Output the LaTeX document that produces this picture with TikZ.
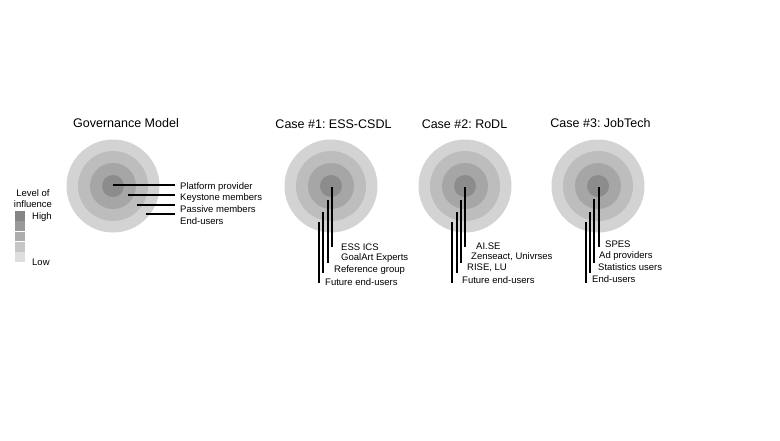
\documentclass[tikz,border=0pt]{standalone}
\usepackage{fontspec}
\setmainfont{Liberation Sans}
\usetikzlibrary{positioning}
\frenchspacing

\definecolor{lvla}{HTML}{8C8C8C}
\definecolor{lvlb}{HTML}{A6A6A6}
\definecolor{lvlc}{HTML}{BDBDBD}
\definecolor{lvld}{HTML}{D3D3D3}

\begin{document}
\begin{tikzpicture}[x=1pt,y=-1pt,
      every node/.style={inner sep=0pt,font=\fontsize{9.5}{11}\selectfont},
      title/.style={font=\fontsize{12.5}{14}\selectfont},
      lbl/.style={anchor=west},
      bar/.style={line width=1.5pt},
      sq/.style={minimum width=10pt,minimum height=9.8pt}]
    \useasboundingbox (0,0) rectangle (780,440);
    \coordinate (gm) at (113,186);
    \coordinate (c1) at (331,186);
    \coordinate (c2) at (465,186);
    \coordinate (c3) at (598,186);
    \foreach \c in {gm,c1,c2,c3} {
      \fill[lvld] (\c) circle (46.5pt);
      \fill[lvlc] (\c) circle (35pt);
      \fill[lvlb] (\c) circle (23pt);
      \fill[lvla] (\c) circle (11pt);
    }
    \node[title] (t0) at (126,123) {Governance Model};
    \node[title] (t1) at (333.5,124) {Case \#1: ESS-CSDL};
    \node[title] (t2) at (464.5,124) {Case \#2: RoDL};
    \node[title] (t3) at (600.5,123) {Case \#3: JobTech};
    % legend
    \node[align=center] (lev) at (33,198.5) {Level of\\influence};
    \node[sq,fill=black!48] (s1) at (20,216) {};
    \node[sq,fill=black!40,below=0pt of s1] (s2) {};
    \node[sq,fill=black!32,below=0pt of s2] (s3) {};
    \node[sq,fill=black!22,below=0pt of s3] (s4) {};
    \node[sq,fill=black!13,below=0pt of s4] (s5) {};
    \node[lbl] (hi) at (32,217) {High};
    \node[lbl] (lo) at (32,262) {Low};
    % governance model
    \coordinate (g1) at (113,185); \coordinate (g1e) at (175,185);
    \coordinate (g2) at (128,195); \coordinate (g2e) at (175,195);
    \coordinate (g3) at (137,205); \coordinate (g3e) at (175,205);
    \coordinate (g4) at (146,214); \coordinate (g4e) at (175,214);
    \draw[bar] (g1) -- (g1e);
    \draw[bar] (g2) -- (g2e);
    \draw[bar] (g3) -- (g3e);
    \draw[bar] (g4) -- (g4e);
    \node[lbl] (pp) at (180,187) {Platform provider};
    \node[lbl] (km) at (180,198) {Keystone members};
    \node[lbl] (pm) at (180,209) {Passive members};
    \node[lbl] (eu) at (180,221) {End-users};
    % case 1
    \coordinate (a1) at (332,187); \coordinate (a1e) at (332,247);
    \coordinate (a2) at (328,200); \coordinate (a2e) at (328,263);
    \coordinate (a3) at (323,212); \coordinate (a3e) at (323,273);
    \coordinate (a4) at (319,222); \coordinate (a4e) at (319,283);
    \draw[bar] (a1) -- (a1e);
    \draw[bar] (a2) -- (a2e);
    \draw[bar] (a3) -- (a3e);
    \draw[bar] (a4) -- (a4e);
    \node[lbl] (ess) at (341,247) {ESS ICS};
    \node[lbl] (goal) at (341,258) {GoalArt Experts};
    \node[lbl] (ref) at (334,270) {Reference group};
    \node[lbl] (fut1) at (325,282) {Future end-users};
    % case 2
    \coordinate (b1) at (465,187); \coordinate (b1e) at (465,247);
    \coordinate (b2) at (461,200); \coordinate (b2e) at (461,263);
    \coordinate (b3) at (457,212); \coordinate (b3e) at (457,273);
    \coordinate (b4) at (452,222); \coordinate (b4e) at (452,283);
    \draw[bar] (b1) -- (b1e);
    \draw[bar] (b2) -- (b2e);
    \draw[bar] (b3) -- (b3e);
    \draw[bar] (b4) -- (b4e);
    \node[lbl] (aise) at (476,246) {AI.SE};
    \node[lbl] (zen) at (471,257) {Zenseact, Univrses};
    \node[lbl] (rise) at (467,268) {RISE, LU};
    \node[lbl] (fut2) at (462,280) {Future end-users};
    % case 3
    \coordinate (d1) at (599,187); \coordinate (d1e) at (599,247);
    \coordinate (d2) at (594,199); \coordinate (d2e) at (594,263);
    \coordinate (d3) at (590,212); \coordinate (d3e) at (590,273);
    \coordinate (d4) at (586,222); \coordinate (d4e) at (586,283);
    \draw[bar] (d1) -- (d1e);
    \draw[bar] (d2) -- (d2e);
    \draw[bar] (d3) -- (d3e);
    \draw[bar] (d4) -- (d4e);
    \node[lbl] (spes) at (605,244) {SPES};
    \node[lbl] (adp) at (599,256) {Ad providers};
    \node[lbl] (stat) at (598,267) {Statistics users};
    \node[lbl] (eu3) at (592,279) {End-users};
  \end{tikzpicture}
\end{document}
